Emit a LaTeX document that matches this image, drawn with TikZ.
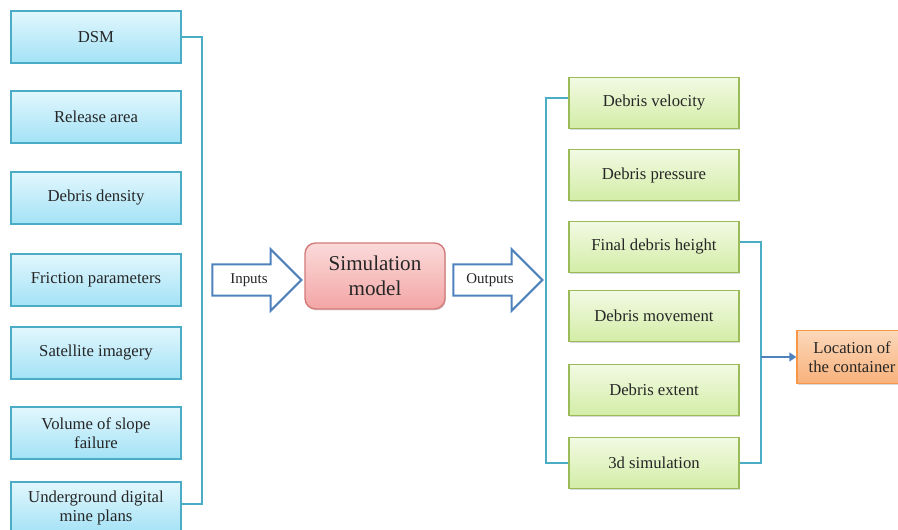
\documentclass[tikz,border=0pt]{standalone}
\usepackage{fontspec}
\setmainfont{Liberation Serif}
\usetikzlibrary{shapes.arrows,arrows.meta,shadows,calc}

\definecolor{inblue}{HTML}{4BACC6}
\definecolor{arrblue}{HTML}{4F81BD}
\definecolor{outgreen}{HTML}{9BBB59}
\definecolor{simred}{HTML}{D27A78}
\definecolor{locorange}{HTML}{F79646}
\definecolor{intop}{HTML}{E2F7FD}
\definecolor{inbot}{HTML}{A3E2F6}
\definecolor{outtop}{HTML}{F2FAE4}
\definecolor{outbot}{HTML}{D3EDA6}
\definecolor{simtop}{HTML}{FBDADA}
\definecolor{simbot}{HTML}{F3A5A5}
\definecolor{loctop}{HTML}{FBD8BA}
\definecolor{locbot}{HTML}{F8B17B}
\definecolor{txt}{HTML}{262626}

\tikzset{
  inbox/.style={draw=inblue, thick, top color=intop, bottom color=inbot, text=txt,
    minimum width=3.4cm, minimum height=1.04cm, align=center, font=\fontsize{9.5}{11}\selectfont,
    drop shadow={shadow xshift=0.5pt, shadow yshift=-0.8pt, opacity=0.3}},
  outbox/.style={draw=outgreen, thick, top color=outtop, bottom color=outbot, text=txt,
    minimum width=3.4cm, minimum height=1.03cm, align=center, font=\fontsize{9.5}{11}\selectfont,
    drop shadow={shadow xshift=0.5pt, shadow yshift=-0.8pt, opacity=0.3}},
  bigarrow/.style={single arrow, draw=arrblue, very thick, fill=white, text=txt,
    inner xsep=1pt, inner ysep=4.6pt,
    minimum height=1.78cm, minimum width=1.2cm, single arrow head extend=0.3cm,
    font=\fontsize{8.5}{10}\selectfont},
  bracket/.style={draw=inblue, line width=1.1pt},
}

\begin{document}
\begin{tikzpicture}[x=0.02cm, y=-0.02cm]
    \useasboundingbox (0,0) rectangle (898,530);

    % Inputs
    \node[inbox] (dsm) at (96,37) {DSM};
    \node[inbox] (release) at (96,117) {Release area};
    \node[inbox] (density) at (96,198) {Debris density};
    \node[inbox] (friction) at (96,280) {Friction parameters};
    \node[inbox] (satellite) at (96,353) {Satellite imagery};
    \node[inbox] (volume) at (96,433) {Volume of slope\\failure};
    \node[inbox] (plans) at (96,508) {Underground digital\\mine plans};
    \draw[bracket] (dsm.east) -- ++(20,0) |- ($(plans.east)+(0,-4)$);

    % Simulation model
    \node[bigarrow] (inputs) at (249,280) {Inputs\hspace{6mm}};
    \node[draw=simred, thick, rounded corners=6pt, top color=simtop, bottom color=simbot, text=txt,
      minimum width=2.8cm, minimum height=1.32cm, align=center, font=\fontsize{12}{14}\selectfont,
      drop shadow={shadow xshift=0.5pt, shadow yshift=-0.8pt, opacity=0.3}]
      (sim) at (375,276) {Simulation\\model};
    \node[bigarrow] (outputs) at (490,280) {Outputs\hspace{6mm}};

    % Outputs
    \node[outbox] (velocity) at (654,103) {Debris velocity};
    \node[outbox] (pressure) at (654,175) {Debris pressure};
    \node[outbox] (height) at (654,247) {Final debris height};
    \node[outbox] (movement) at (654,316) {Debris movement};
    \node[outbox] (extent) at (654,390) {Debris extent};
    \node[outbox] (sim3d) at (654,463) {3d simulation};
    \draw[bracket] ($(velocity.west)+(0,-5)$) -- ++(-22,0) |- (sim3d.west);

    % Location of the container
    \node[draw=locorange, thick, top color=loctop, bottom color=locbot, text=txt,
      minimum width=2.2cm, minimum height=1.06cm, align=center, font=\fontsize{9.5}{11}\selectfont,
      drop shadow={shadow xshift=0.5pt, shadow yshift=-0.8pt, opacity=0.3}]
      (location) at (852,357) {Location of\\the container};
    \draw[bracket] ($(height.east)+(0,-5)$) coordinate (hs) -- ++(21,0) coordinate (hj) |- (sim3d.east);
    \coordinate (join) at (hj |- location.west);
    \draw[arrblue, line width=1.3pt, -{Triangle[length=4pt,width=5pt]}] (join) -- (location.west);
\end{tikzpicture}
\end{document}
